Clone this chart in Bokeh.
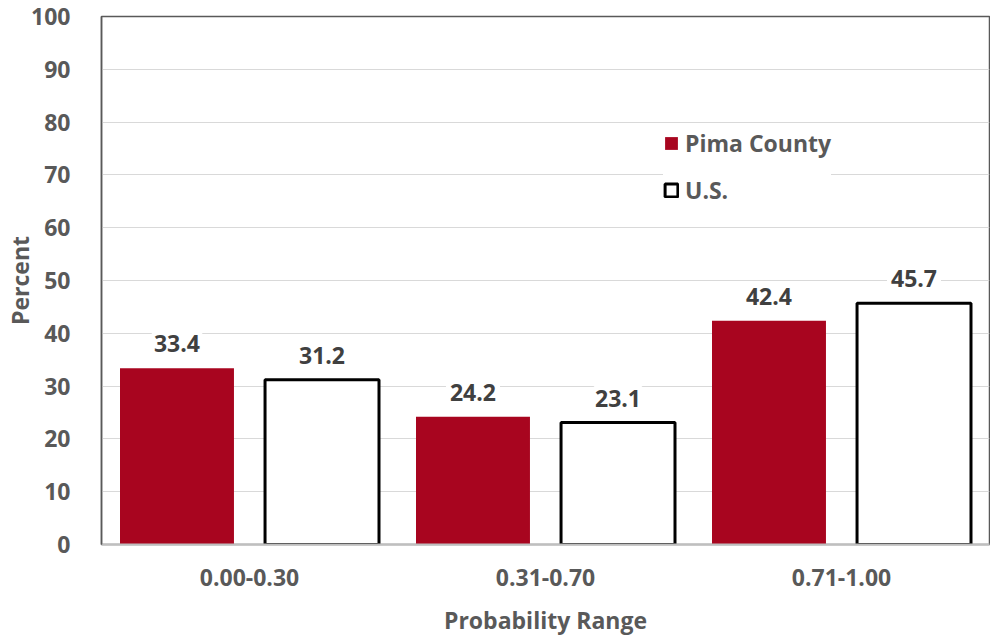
from bokeh.plotting import figure
from bokeh.models import (FactorRange, Range1d, ColumnDataSource, LabelSet,
                          Legend, LegendItem, FixedTicker)
from bokeh.core.properties import value
from bokeh.transform import dodge
from bokeh.embed import file_html
from bokeh.resources import INLINE

categories = ["0.00-0.30", "0.31-0.70", "0.71-1.00"]
pima = [33.4, 24.2, 42.4]
us = [31.2, 23.1, 45.7]
y_ticks = [0, 10, 20, 30, 40, 50, 60, 70, 80, 90, 100]
series_names = ["Pima County", "U.S."]

FONT = "Open Sans"
FS = "23px"
TXT = "#595959"
RED = "#A8051F"

src = ColumnDataSource(dict(
    cat=categories, pima=pima, us=us,
    pima_lbl=[f"{v:.1f}" for v in pima],
    us_lbl=[f"{v:.1f}" for v in us],
))

p = figure(x_range=FactorRange(*categories), y_range=Range1d(0, 100),
           width=990, height=638, output_backend="svg", toolbar_location=None,
           min_border_left=101, min_border_right=1, min_border_top=16,
           min_border_bottom=93)

r1 = p.vbar(x=dodge("cat", -0.245, range=p.x_range), top="pima", width=0.385,
            source=src, fill_color=RED, line_color=None)
r2 = p.vbar(x=dodge("cat", 0.245, range=p.x_range), top="us", width=0.385,
            source=src, fill_color="white", line_color="black", line_width=3)

for xoff, col, lbl in [(-0.245, "pima", "pima_lbl"), (0.245, "us", "us_lbl")]:
    ls = LabelSet(x=dodge("cat", xoff, range=p.x_range), y=col, text=lbl,
                  source=src, y_offset=16, text_align="center",
                  text_baseline="bottom", text_font=value(FONT),
                  text_font_style="bold", text_font_size=FS,
                  text_color="#404040", background_fill_color="white",
                  border_line_color="white", border_line_width=8)
    p.add_layout(ls)

legend = Legend(items=[LegendItem(label=series_names[0], renderers=[r1]),
                       LegendItem(label=series_names[1], renderers=[r2])],
                location=(562, 338))
legend.label_text_font = FONT
legend.label_text_font_style = "bold"
legend.label_text_font_size = FS
legend.label_text_color = TXT
legend.glyph_width = 16
legend.glyph_height = 16
legend.spacing = 15
legend.padding = 12
legend.label_standoff = 6
legend.border_line_color = None
legend.background_fill_color = "white"
legend.background_fill_alpha = 1
p.add_layout(legend)

p.yaxis.ticker = FixedTicker(ticks=y_ticks)
p.yaxis.axis_label = "Percent"
p.xaxis.axis_label = "Probability Range"
for ax in (p.xaxis, p.yaxis):
    ax.major_tick_line_color = None
    ax.minor_tick_line_color = None
    ax.major_label_text_font = FONT
    ax.major_label_text_font_style = "bold"
    ax.major_label_text_font_size = FS
    ax.major_label_text_color = TXT
    ax.axis_label_text_font = FONT
    ax.axis_label_text_font_style = "bold"
    ax.axis_label_text_font_size = FS
    ax.axis_label_text_color = TXT
p.yaxis.axis_line_color = "#595959"
p.yaxis.axis_line_width = 1.5
p.xaxis.axis_line_color = "#bfbfbf"
p.xaxis.axis_line_width = 2
p.yaxis.major_label_standoff = 25
p.xaxis.major_label_standoff = 18
p.xaxis.axis_label_standoff = 15
p.yaxis.axis_label_standoff = -8

p.xgrid.grid_line_color = None
p.ygrid.grid_line_color = "#d9d9d9"
p.ygrid.grid_line_width = 1
p.outline_line_color = "#595959"
p.outline_line_width = 1.5

open("out.html", "w").write(file_html(p, INLINE))
